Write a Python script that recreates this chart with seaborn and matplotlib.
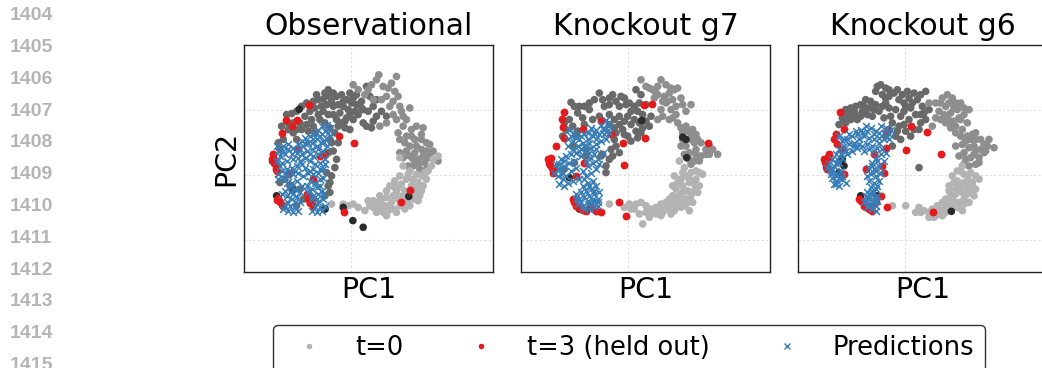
import matplotlib
matplotlib.use("Agg")
import matplotlib.pyplot as plt
from matplotlib.lines import Line2D
import seaborn as sns
import pandas as pd

# ---------------- data (panel-local units) ----------------
PANELS = ["Observational", "Knockout g7", "Knockout g6"]
LINE_NUMBERS = [str(n) for n in range(1404, 1416)]
LEGEND_LABELS = ["t=0", "t=3 (held out)", "Predictions"]

# Observational
obs_dark = [(170,225),(185,222),(200,215),(215,200),(230,190),(250,185),(265,180),(280,178),(295,150),(298,170),
            (310,160),(320,170),(335,165),(350,180),(365,190),(340,200),(355,210),(370,175),(380,195),(395,185),
            (400,210),(385,225),(370,240),(350,235),(335,250),(320,240),(330,220),(345,265),(360,270),(310,200),
            (290,195),(275,200),(255,205),(240,215),(225,230),(210,250),(230,255),(250,260),(270,240),(300,265),
            (315,280),(325,310),(300,300),(310,335),(320,360),(315,385),(305,410),(295,440),(300,460),(285,470),
            (155,260),(175,270),(190,280),(200,300),(160,300),(145,310),(150,330),(210,450),(220,480),(200,500),
            (180,440),(165,420),(150,430),(410,140),(420,170),(440,180),(430,200),(410,260),(425,265),(440,230),
            (455,215),(470,230),(430,245),
            (260,165),(285,160),(305,185),(325,195),(340,185),(360,160),(380,165),(395,205),(375,215),(360,225),
            (345,245),(325,260),(310,225),(295,225),(280,215),(265,225),(245,240),(215,270),(190,250),(175,250),
            (200,270),(235,275),(255,280),(285,250),(305,310),(295,340),(290,400),(300,430),(400,250),(415,215)]
obs_mid = [(370,135),(385,150),(405,165),(425,135),(440,120),(447,105),(460,140),(470,170),(485,130),(500,110),
           (495,155),(480,200),(490,185),(510,200),(520,230),(540,205),(500,240),(520,260),(505,280),(530,290),
           (545,270),(560,260),(575,300),(560,320),(540,320),(555,340),(575,330),(590,310),(600,345),(585,370),
           (565,360),(550,380),(570,390),(590,390),(610,335),(625,365),(580,265),(600,315),(470,250),(450,260),
           (520,355),(510,340),(540,350),
           (415,150),(430,180),(455,180),(475,145),(505,170),(515,215),(530,240),(490,225),(510,300),(525,310),
           (545,290),(555,300),(530,335),(550,360),(565,375),(580,350),(595,355),(575,285),(590,335),(535,380)]
obs_light = [(510,355),(520,380),(540,395),(560,405),(530,420),(515,435),(500,460),(490,470),(470,475),(455,480),
             (440,490),(445,505),(460,520),(475,515),(490,510),(510,500),(530,490),(550,480),(570,470),(580,440),
             (565,430),(575,410),(590,420),(545,440),(525,455),(505,445),(485,490),(465,500),(440,520),(430,485),
             (415,485),(420,500),(405,515),(385,505),(370,495),(355,500),(340,495),(305,495),(520,470),(555,460),
             (540,500),(500,520),(595,395),(610,360),(625,350),
             (480,440),(495,425),(510,410),(535,405),(550,420),(560,445),(540,470),(525,510),(505,480),(480,500),
             (455,500),(430,505),(450,470),(470,455),(495,445),(585,400),(605,380),(575,455),(565,485),(470,530)]
obs_black = [(208,209),(128,366),(140,470),(286,510),(340,505),(369,545),(400,565),(537,472),(190,450)]
obs_red = [(237,197),(168,240),(202,240),(185,258),(155,282),(327,290),(373,312),(205,330),(130,345),(128,355),
           (135,365),(138,380),(142,395),(250,420),(145,478),(150,490),(160,500),(230,465),(235,480),(240,492),
           (248,500),(342,518),(515,490),(540,453),(180,400),(270,350),(282,345),
           (125,360),(132,372),(138,390),(140,482),(155,498),(238,470),(245,485)]
obs_pred = [(140,320),(150,330),(160,320),(175,315),(190,325),(205,315),(215,305),(225,295),(240,290),(255,280),
            (265,270),(275,260),(290,255),(300,265),(285,275),(270,290),(250,300),(235,310),(220,320),(200,340),
            (185,345),(165,345),(150,350),(140,365),(155,370),(170,365),(190,360),(205,355),(215,345),(230,335),
            (245,330),(260,320),(275,310),(290,300),(300,290),(290,320),(280,335),(265,345),(250,350),(240,365),
            (255,375),(270,370),(285,360),(280,390),(265,400),(250,405),(240,395),(225,385),(215,375),(200,380),
            (185,385),(170,390),(155,395),(145,405),(160,415),(175,410),(190,405),(205,400),(220,410),(200,425),
            (185,430),(170,430),(180,445),(195,450),(210,460),(200,475),(185,480),(170,490),(180,500),(195,505),
            (205,515),(190,520),(175,515),(160,510),(155,465),(165,455),(240,425),(255,430),(270,420),(280,415),
            (260,445),(245,450),(235,460),(250,470),(265,465),(275,455),(280,480),(265,490),(255,505),(245,515),
            (260,520),(275,515),(285,500),(230,440),(215,440),
            (145,335),(160,335),(175,330),(195,335),(210,330),(225,310),(245,310),(260,300),(275,285),(295,280),
            (280,305),(265,330),(240,345),(225,355),(210,365),(195,395),(180,395),(165,400),(150,380),(145,420),
            (170,470),(190,465),(180,460),(195,490),(165,500),(235,400),(250,390),(270,390),(285,375),(270,440),
            (245,480),(260,480),(280,465),(270,505),(240,455),(210,490)]

# Knockout g7
g7_dark = [(185,188),(210,200),(240,190),(240,210),(270,160),(285,200),(300,175),(310,165),(320,185),(335,170),
           (345,175),(330,230),(315,240),(300,255),(220,235),(205,220),(225,255),(180,240),(165,250),(170,270),
           (160,290),(355,230),(365,255),(375,200),(380,275),(390,250),(400,225),(400,265),(385,295),(365,305),
           (345,285),(320,280),(315,300),(320,320),(305,330),(280,345),(300,360),(290,380),(275,350),(410,195),
           (425,230),(420,260),(360,190),(395,165),(380,150),(200,290),(190,320),(165,390),(195,370),(230,350),
           (230,330),
           (195,200),(225,200),(255,180),(280,180),(300,195),(330,200),(350,195),(365,215),(385,215),(390,190),
           (345,245),(330,255),(315,265),(300,225),(270,230),(250,240),(190,260),(205,275),(340,270),(355,290),
           (375,240),(395,280),(330,340),(310,350),(290,400),(410,245)]
g7_mid = [(395,120),(410,140),(430,150),(445,140),(455,120),(465,170),(480,160),(495,150),(505,145),(470,190),
          (485,210),(455,210),(445,240),(460,185),(490,180),(515,175),(545,195),(520,195),(500,225),(505,250),
          (520,280),(535,275),(550,270),(560,285),(545,300),(530,320),(515,320),(540,340),(560,330),(575,310),
          (590,330),(575,350),(555,365),(540,360),(560,345),(610,330),(625,345),(600,345),(520,300),(435,175),
          (445,165),
          (420,145),(440,160),(470,135),(485,145),(475,185),(500,200),(530,215),(490,235),(515,265),(545,285),
          (565,300),(555,310),(590,345),(570,365),(525,345),(545,375),(600,320),(530,260),(460,230),(480,240)]
g7_light = [(510,365),(525,385),(545,400),(530,410),(515,420),(560,420),(570,440),(555,455),(545,470),(530,480),
            (515,490),(500,495),(485,500),(470,490),(455,495),(440,505),(425,510),(410,500),(395,490),(380,495),
            (365,510),(360,495),(300,495),(345,505),(390,525),(400,555),(420,535),(440,525),(460,520),(475,510),
            (495,515),(515,505),(540,515),(530,495),(520,460),(500,450),(490,470),(505,430),(540,430),(570,400),
            (580,405),(495,410),(480,480),(505,475),
            (520,400),(540,420),(555,435),(535,455),(520,440),(510,470),(525,500),(495,480),(470,505),(450,510),
            (430,520),(410,520),(375,510),(550,490),(565,460),(500,505),(485,525),(455,530),(560,395),(490,440)]
g7_black = [(397,243),(520,293),(530,300),(532,355),(180,415),(210,510)]
g7_red = [(165,218),(158,238),(162,262),(165,295),(140,320),(222,268),(305,285),(340,310),(403,196),(427,193),
          (406,296),(595,310),(345,378),(328,488),(350,530),(125,355),(120,370),(128,385),(130,400),(200,410),
          (225,370),(190,480),(200,500),(215,510),(230,515),(260,515),(275,520),(245,505),(275,245),
          (115,360),(122,378),(132,392),(195,490),(208,505),(222,512)]
g7_pred = [(180,270),(195,280),(210,300),(225,285),(245,265),(260,270),(275,255),(290,240),(300,255),(285,270),
           (270,285),(250,290),(235,300),(220,310),(205,320),(190,305),(175,300),(300,280),(290,300),(275,305),
           (260,315),(245,325),(230,335),(215,330),(200,340),(185,345),(170,350),(155,360),(140,375),(150,390),
           (165,380),(180,370),(195,365),(145,410),(160,420),(175,430),(190,425),(150,435),(135,400),(160,400),
           (240,340),(255,345),(265,360),(250,370),(235,380),(220,395),(230,410),(245,400),(260,390),(270,375),
           (280,340),(210,420),(220,440),(235,430),(250,425),(260,440),(245,450),(230,455),(215,460),(200,465),
           (210,480),(225,475),(240,470),(255,465),(265,480),(250,490),(235,495),(220,500),(205,495),(240,510),
           (255,505),(265,500),
           (185,290),(200,295),(215,290),(235,280),(255,280),(280,265),(295,270),(285,285),(260,300),(240,310),
           (225,320),(210,335),(190,330),(175,320),(165,365),(150,375),(145,390),(155,405),(170,410),(185,395),
           (200,385),(165,440),(215,350),(230,365),(245,355),(260,330),(225,420),(240,440),(255,455),(270,460),
           (235,485),(250,480),(265,490),(225,510),(215,490),(200,480)]

# Knockout g6
g6_dark = [(275,135),(290,145),(260,155),(280,165),(300,170),(325,150),(340,165),(330,180),(345,190),(360,175),
           (375,160),(385,180),(410,155),(230,180),(215,195),(200,200),(185,205),(170,210),(160,235),(180,230),
           (200,225),(220,215),(240,205),(260,195),(290,190),(270,215),(250,230),(235,225),(150,255),(170,250),
           (320,210),(345,215),(365,205),(380,225),(400,200),(410,240),(395,250),(375,270),(350,275),(330,260),
           (310,250),(300,270),(290,290),(320,290),(335,300),(310,320),(390,385),(420,210),(395,225),
           (265,140),(300,150),(315,160),(355,155),(395,165),(350,200),(370,190),(245,185),(225,200),(195,215),
           (175,220),(165,245),(185,240),(205,240),(215,230),(255,210),(280,200),(300,205),(305,230),(285,235),
           (335,230),(360,240),(345,255),(365,290),(390,270),(325,275),(405,220),(290,175)]
g6_mid = [(420,190),(440,190),(460,175),(475,165),(490,175),(500,190),(515,190),(540,210),(505,210),(470,200),
          (450,215),(440,235),(465,225),(485,220),(470,250),(495,245),(515,240),(485,265),(500,280),(520,270),
          (535,290),(545,300),(560,280),(575,300),(555,320),(540,325),(525,340),(510,350),(530,360),(555,345),
          (575,330),(595,320),(600,300),(615,325),(570,355),(540,380),(560,375),(585,340),(510,235),(430,260),
          (520,315),(500,320),
          (455,190),(480,190),(495,205),(525,205),(525,225),(485,245),(500,260),(515,290),(530,305),(550,285),
          (560,300),(585,315),(590,335),(560,335),(545,355),(570,370),(525,375),(535,250),(455,240),(475,235)]
g6_light = [(520,380),(505,395),(490,410),(525,405),(545,400),(560,410),(550,430),(535,445),(520,460),(500,465),
            (485,470),(470,480),(460,490),(475,500),(490,505),(505,505),(520,515),(540,490),(555,470),(560,450),
            (500,490),(445,500),(430,510),(420,520),(420,535),(440,530),(460,530),(470,520),(405,515),(390,505),
            (380,520),(350,500),(310,500),(525,480),(510,440),(545,460),(480,455),(505,425),
            (515,395),(535,410),(540,425),(525,430),(515,450),(500,450),(535,465),(525,495),(510,490),(485,490),
            (470,505),(455,515),(445,520),(435,535),(490,480),(550,440),(570,420),(495,430),(480,440),(395,520)]
g6_black = [(160,360),(165,380),(150,400),(215,470),(265,470),(487,517)]
g6_red = [(152,217),(165,268),(140,283),(135,300),(145,315),(160,330),(105,360),(110,375),(115,390),(165,405),
          (120,345),(295,270),(290,325),(255,345),(367,259),(414,278),(352,331),(456,343),(230,390),(295,505),
          (433,520),(210,480),(225,500),(240,510),(250,515),(260,490),(275,470),(285,400),(280,380),
          (108,368),(112,383),(118,352),(215,485),(230,505),(245,505)]
g6_pred = [(150,290),(165,300),(180,285),(200,275),(215,270),(230,260),(245,265),(260,275),(275,260),(290,265),
           (305,270),(300,285),(285,280),(270,295),(255,300),(240,295),(225,290),(210,300),(195,310),(180,315),
           (165,320),(150,330),(140,345),(130,360),(120,375),(135,380),(150,370),(160,355),(175,345),(190,335),
           (205,325),(220,320),(235,315),(250,320),(265,325),(280,330),(290,340),(275,345),(260,355),(250,370),
           (240,385),(255,390),(270,380),(285,365),(125,395),(140,400),(155,395),(130,415),(145,425),(160,420),
           (170,430),(150,440),(135,435),(245,405),(260,410),(275,400),(240,425),(255,430),(270,425),(245,445),
           (260,450),(235,460),(250,465),(265,470),(240,480),(255,485),(245,495),(260,500),(250,510),(235,505),
           (225,490),(230,470),
           (160,305),(175,300),(190,290),(205,285),(220,280),(235,275),(255,285),(270,280),(285,300),(300,300),
           (270,310),(255,335),(240,330),(225,335),(210,315),(195,320),(170,335),(155,345),(145,360),(140,370),
           (130,390),(115,385),(125,405),(140,410),(160,410),(150,415),(140,435),(265,365),(250,380),(260,395),
           (235,410),(265,440),(250,455),(235,475),(255,475),(265,485),(260,515),(240,495)]

# axis window of each panel (same scale, panel-local origin)
XLIMS = [(42, 790), (35, 782), (27, 774)]
XGRID = [363, 355, 347]
YLIM = (700, 15)
YGRID = [211, 407, 604]

GROUPS = {
    "Observational": dict(dark=obs_dark, mid=obs_mid, light=obs_light, black=obs_black, red=obs_red, pred=obs_pred),
    "Knockout g7": dict(dark=g7_dark, mid=g7_mid, light=g7_light, black=g7_black, red=g7_red, pred=g7_pred),
    "Knockout g6": dict(dark=g6_dark, mid=g6_mid, light=g6_light, black=g6_black, red=g6_red, pred=g6_pred),
}

COLORS = {"light": "#b3b3b3", "mid": "#8e8e8e", "dark": "#696969", "black": "#2b2b2b",
          "red": "#e41a1c", "pred": "#377eb8"}

rows = []
for panel, grp in GROUPS.items():
    for name, pts in grp.items():
        for (x, y) in pts:
            rows.append((panel, name, x, y))
df = pd.DataFrame(rows, columns=["panel", "group", "PC1", "PC2"])

# ---------------- figure ----------------
sns.set_style("white")
plt.rcParams["font.family"] = ["DejaVu Sans"]
plt.rcParams["text.color"] = "black"
plt.rcParams["axes.labelcolor"] = "black"

W, H = 1042, 368
fig = plt.figure(figsize=(W / 100, H / 100), dpi=100)

ax_left = [244, 521, 798]
ax_w, ax_top, ax_bot = 249, 45, 272

for i, panel in enumerate(PANELS):
    ax = fig.add_axes([ax_left[i] / W, 1 - ax_bot / H, ax_w / W, (ax_bot - ax_top) / H])
    sub = df[df.panel == panel]
    grays = sub[sub.group.isin(["dark", "mid", "light", "black"])]
    sns.scatterplot(data=grays, x="PC1", y="PC2", hue="group", palette=COLORS,
                    s=30, linewidth=0, legend=False, ax=ax)
    sns.scatterplot(data=sub[sub.group == "red"], x="PC1", y="PC2", color=COLORS["red"],
                    s=32, linewidth=0, legend=False, ax=ax)
    sns.scatterplot(data=sub[sub.group == "pred"], x="PC1", y="PC2", color=COLORS["pred"],
                    marker="x", s=24, linewidth=1.1, legend=False, ax=ax)
    ax.set_xlim(*XLIMS[i])
    ax.set_ylim(*YLIM)
    ax.set_xticks([XGRID[i]])
    ax.set_yticks(YGRID)
    ax.tick_params(length=0, labelbottom=False, labelleft=False)
    ax.grid(True, color="#dddddd", linestyle=(0, (2, 2)), linewidth=0.8)
    ax.set_axisbelow(True)
    for sp in ax.spines.values():
        sp.set_visible(True)
        sp.set_color("#222222")
        sp.set_linewidth(1.0)
    ax.set_title(panel, fontsize=21.5, pad=7, color="black")
    ax.set_xlabel("PC1", fontsize=20.5, labelpad=3)
    if i == 0:
        ax.set_ylabel("PC2", fontsize=20.5, labelpad=3)
    else:
        ax.set_ylabel("")

# legend
handles = [
    Line2D([], [], linestyle="none", marker="o", markersize=4, color=COLORS["light"], markeredgewidth=0),
    Line2D([], [], linestyle="none", marker="o", markersize=4, color=COLORS["red"], markeredgewidth=0),
    Line2D([], [], linestyle="none", marker="x", markersize=4, color=COLORS["pred"], markeredgewidth=1),
]
leg = fig.legend(handles, LEGEND_LABELS, loc="upper center", bbox_to_anchor=(629 / W, 1 - 325 / H),
                 ncol=3, fontsize=18.5, frameon=True, fancybox=True, borderpad=0.4, borderaxespad=0)
leg.get_frame().set_edgecolor("#333333")
leg.get_frame().set_linewidth(1.0)
leg.get_frame().set_alpha(1)

# page line numbers
for k, lab in enumerate(LINE_NUMBERS):
    fig.text(10 / W, 1 - (15.7 + 31.8 * k) / H, lab, ha="left", va="center",
             fontsize=14, fontweight="bold", color="#b5b5b5", family=["Liberation Sans", "DejaVu Sans"])

fig.savefig("out.png", dpi=100)
